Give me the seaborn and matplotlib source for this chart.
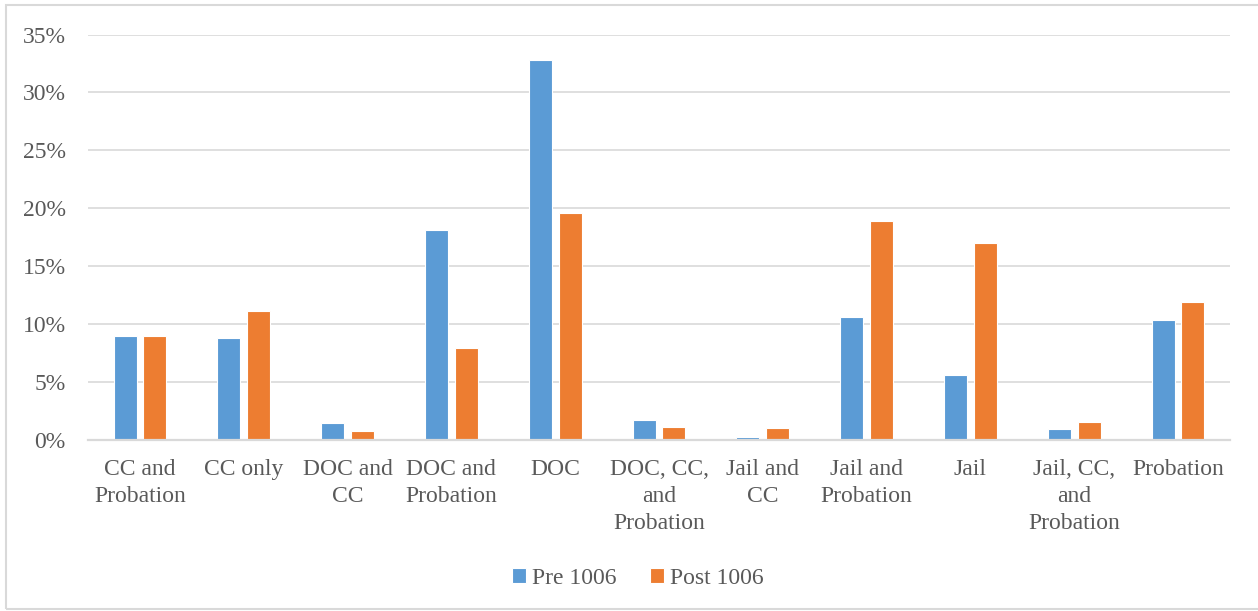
import matplotlib
matplotlib.use("Agg")
import matplotlib.pyplot as plt
from matplotlib.patches import Rectangle
from matplotlib.ticker import PercentFormatter, MultipleLocator
import pandas as pd
import seaborn as sns

# Share of sentences by sentence type, before and after 1006
categories = ["CC and Probation", "CC only", "DOC and CC", "DOC and Probation", "DOC",
              "DOC, CC, and Probation", "Jail and CC", "Jail and Probation", "Jail",
              "Jail, CC, and Probation", "Probation"]
tick_labels = ["CC and\nProbation", "CC only", "DOC and\nCC", "DOC and\nProbation", "DOC",
               "DOC, CC,\nand\nProbation", "Jail and\nCC", "Jail and\nProbation", "Jail",
               "Jail, CC,\nand\nProbation", "Probation"]
pre_1006 = [8.99, 8.79, 1.47, 18.12, 32.80, 1.73, 0.29, 10.65, 5.64, 0.98, 10.40]
post_1006 = [8.96, 11.15, 0.78, 7.95, 19.61, 1.12, 1.04, 18.90, 17.03, 1.56, 11.95]
series_names = ["Pre 1006", "Post 1006"]

df = pd.DataFrame({
    "category": categories * 2,
    "share": pre_1006 + post_1006,
    "period": [series_names[0]] * len(categories) + [series_names[1]] * len(categories),
})

sns.set_theme(style="white")
plt.rcParams["font.family"] = ["Liberation Serif", "DejaVu Serif"]
text_color = "#595959"
grid_color = "#D9D9D9"

fig = plt.figure(figsize=(12.58, 6.11), dpi=100)
ax = fig.add_axes([0.070, 0.2799, 0.9077, 0.6636])

sns.barplot(data=df, x="category", y="share", hue="period", order=categories,
            hue_order=series_names, palette=["#5B9BD5", "#ED7D31"], saturation=1,
            width=0.572, gap=0.225, edgecolor="white", linewidth=0.8,
            ax=ax, legend=True)

ax.set_ylim(0, 35)
ax.set_xlim(-0.5, len(categories) - 0.5)
ax.yaxis.set_major_locator(MultipleLocator(5))
ax.yaxis.set_major_formatter(PercentFormatter(decimals=0))
ax.grid(axis="y", color=grid_color, linewidth=1.2)
ax.set_axisbelow(True)
for side in ["left", "right", "top"]:
    ax.spines[side].set_visible(False)
ax.spines["bottom"].set_color(grid_color)
ax.spines["bottom"].set_linewidth(1.6)

ax.set_xticks(range(len(categories)))
ax.set_xticklabels(tick_labels, fontsize=17, color=text_color, linespacing=1.35)
ax.tick_params(axis="x", length=0, pad=14)
ax.tick_params(axis="y", length=0, pad=16, labelsize=17, labelcolor=text_color)
ax.set_xlabel("")
ax.set_ylabel("")

handles, labels = ax.get_legend_handles_labels()
ax.legend_.remove()
fig.legend(handles, labels, loc="center", bbox_to_anchor=(0.507, 0.054), ncol=2,
           frameon=False, fontsize=17, labelcolor=text_color,
           handlelength=0.6, handleheight=0.6, handletextpad=0.25, columnspacing=1.4)

# Light chart-area border
fig.patches.append(Rectangle((6 / 1258, 2 / 611), 1.2, 604 / 611, transform=fig.transFigure,
                             fill=False, edgecolor=grid_color, linewidth=1.5, clip_on=False))

fig.savefig("out.png", dpi=100, facecolor="white")
